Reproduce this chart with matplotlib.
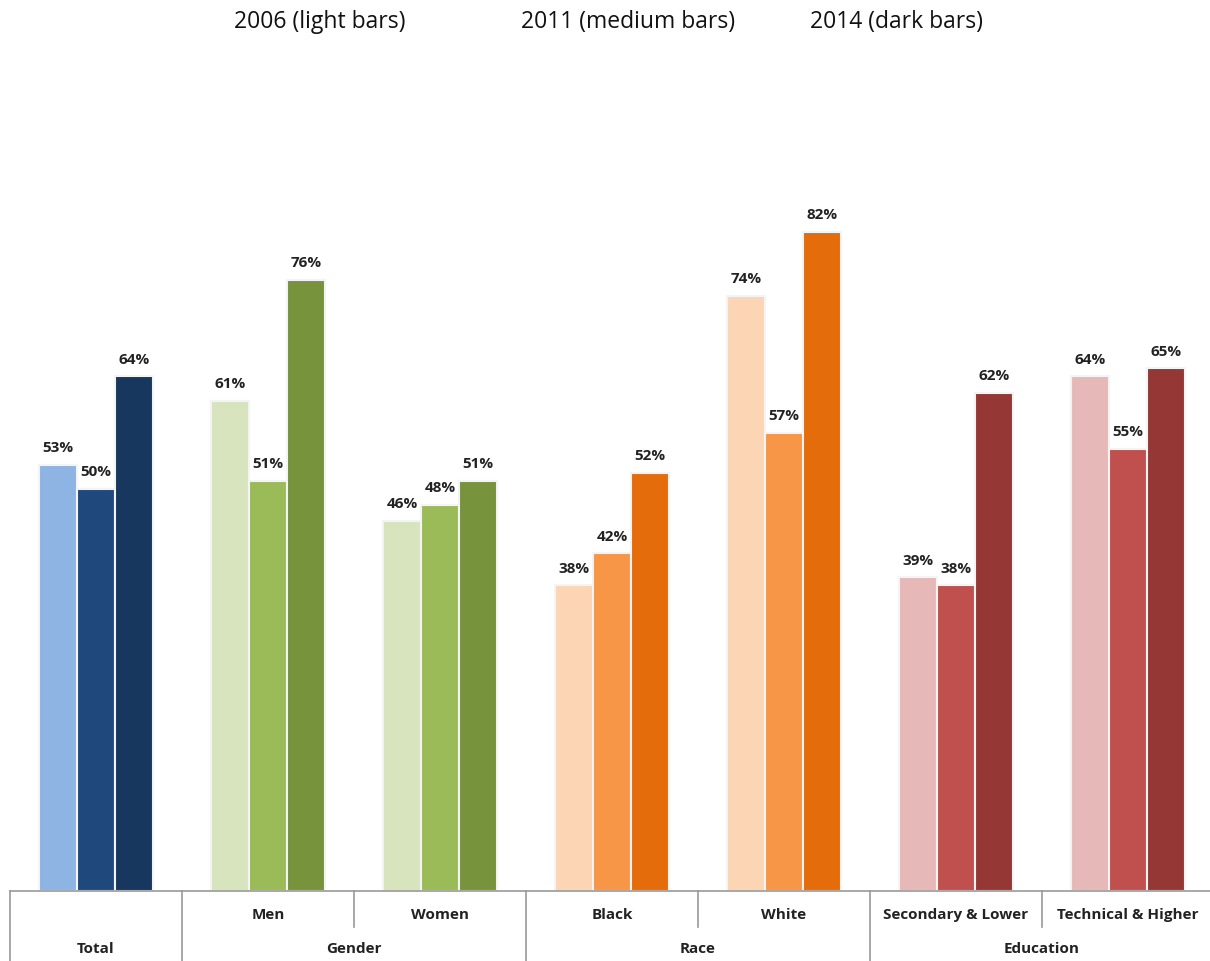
import matplotlib
matplotlib.use('Agg')
import matplotlib.pyplot as plt
from matplotlib.transforms import blended_transform_factory

categories = ['Total', 'Men', 'Women', 'Black', 'White',
              'Secondary & Lower', 'Technical & Higher']
cat_labels = ['', 'Men', 'Women', 'Black', 'White',
              'Secondary & Lower', 'Technical & Higher']
groups = ['Total', 'Gender', 'Race', 'Education']
group_span = [(0, 0), (1, 2), (3, 4), (5, 6)]
years = ['2006 (light bars)', '2011 (medium bars)', '2014 (dark bars)']

v2006 = [53, 61, 46, 38, 74, 39, 64]
v2011 = [50, 51, 48, 42, 57, 38, 55]
v2014 = [64, 76, 51, 52, 82, 62, 65]

# light / medium / dark per category
colors = [
    ['#8EB4E3', '#1F497D', '#17375E'],
    ['#D7E4BD', '#9BBB59', '#77933C'],
    ['#D7E4BD', '#9BBB59', '#77933C'],
    ['#FCD5B5', '#F79646', '#E46C0A'],
    ['#FCD5B5', '#F79646', '#E46C0A'],
    ['#E6B9B8', '#C0504D', '#953735'],
    ['#E6B9B8', '#C0504D', '#953735'],
]

W, H = 1210, 961
fig = plt.figure(figsize=(W / 100, H / 100), dpi=100)
base = 891
ax = fig.add_axes([10 / W, (H - base) / H, 1204 / W, 804 / H])

bw = 0.221
series = [v2006, v2011, v2014]
for i, vals in enumerate(series):
    xs = [c + (i - 1) * bw for c in range(len(categories))]
    cols = [colors[c][i] for c in range(len(categories))]
    bars = ax.bar(xs, vals, width=bw, color=cols, edgecolor='#f4f4f4', linewidth=1.5)
    for b, v in zip(bars, vals):
        ax.annotate(f'{v}%', (b.get_x() + b.get_width() / 2, v),
                    xytext=(0, 7), textcoords='offset points',
                    ha='center', va='bottom', fontsize=11, fontweight='bold',
                    color='#222222', family='Open Sans')

ax.set_xlim(-0.5, len(categories) - 0.5)
ax.set_ylim(0, 100)
for s in ['top', 'right', 'left']:
    ax.spines[s].set_visible(False)
ax.spines['bottom'].set_color('#999999')
ax.spines['bottom'].set_linewidth(1.2)
ax.set_xticks([])
ax.set_yticks([])

tr = blended_transform_factory(ax.transData, fig.transFigure)
y_axis = (H - base) / H
y_short = (H - 927) / H

# separators under the axis
for k in range(len(categories)):
    x = k - 0.5
    full = k in (0, 1, 3, 5)
    y1 = 0 if full else y_short
    ax.plot([x, x], [y_axis, y1], transform=tr, color='#999999',
            linewidth=1.2, clip_on=False)

for c, lab in enumerate(cat_labels):
    if lab:
        ax.text(c, (H - 915) / H, lab, transform=tr, ha='center', va='center',
                fontsize=11, fontweight='bold', color='#222222', family='Open Sans')

for g, (a, b) in zip(groups, group_span):
    ax.text((a + b) / 2, (H - 949) / H, g, transform=tr, ha='center', va='center',
            fontsize=11, fontweight='bold', color='#222222', family='Open Sans')

for x, t in zip([320, 628, 896], years):
    fig.text(x / W, 1 - 22 / H, t, ha='center', va='center', fontsize=16.5,
             color='#111111', family='Open Sans')

fig.savefig('out.png', dpi=100)
